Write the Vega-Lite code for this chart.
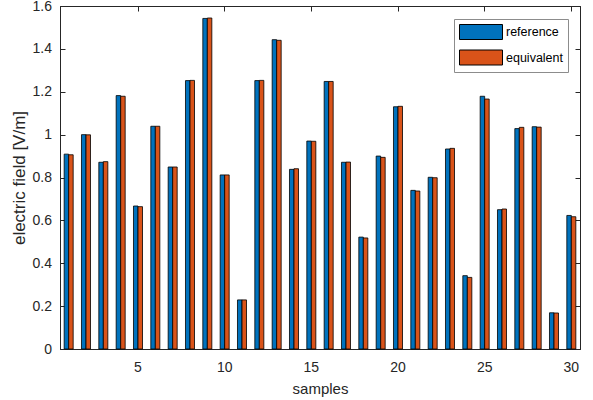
{
  "$schema": "https://vega.github.io/schema/vega-lite/v6.json",
  "autosize": "none",
  "width": 520,
  "height": 343,
  "padding": {"left": 60, "top": 6, "right": 13, "bottom": 51},
  "background": "white",
  "config": {
    "font": "Liberation Sans",
    "view": {"stroke": "#262626", "strokeWidth": 1},
    "axis": {
      "grid": false,
      "domainColor": "#262626",
      "tickColor": "#262626",
      "labelColor": "#262626",
      "titleColor": "#262626",
      "labelFont": "Liberation Sans",
      "titleFont": "Liberation Sans",
      "labelFontSize": 14,
      "titleFontSize": 15,
      "titleFontWeight": "normal",
      "tickSize": -5
    }
  },
  "data": {
    "values": [
      {"sample": 1, "series": "reference", "value": 0.909}, {"sample": 1, "series": "equivalent", "value": 0.906},
      {"sample": 2, "series": "reference", "value": 1.0}, {"sample": 2, "series": "equivalent", "value": 0.999},
      {"sample": 3, "series": "reference", "value": 0.871}, {"sample": 3, "series": "equivalent", "value": 0.874},
      {"sample": 4, "series": "reference", "value": 1.182}, {"sample": 4, "series": "equivalent", "value": 1.179},
      {"sample": 5, "series": "reference", "value": 0.667}, {"sample": 5, "series": "equivalent", "value": 0.664},
      {"sample": 6, "series": "reference", "value": 1.039}, {"sample": 6, "series": "equivalent", "value": 1.039},
      {"sample": 7, "series": "reference", "value": 0.849}, {"sample": 7, "series": "equivalent", "value": 0.849},
      {"sample": 8, "series": "reference", "value": 1.252}, {"sample": 8, "series": "equivalent", "value": 1.253},
      {"sample": 9, "series": "reference", "value": 1.542}, {"sample": 9, "series": "equivalent", "value": 1.544},
      {"sample": 10, "series": "reference", "value": 0.812}, {"sample": 10, "series": "equivalent", "value": 0.812},
      {"sample": 11, "series": "reference", "value": 0.229}, {"sample": 11, "series": "equivalent", "value": 0.229},
      {"sample": 12, "series": "reference", "value": 1.252}, {"sample": 12, "series": "equivalent", "value": 1.253},
      {"sample": 13, "series": "reference", "value": 1.443}, {"sample": 13, "series": "equivalent", "value": 1.440},
      {"sample": 14, "series": "reference", "value": 0.838}, {"sample": 14, "series": "equivalent", "value": 0.841},
      {"sample": 15, "series": "reference", "value": 0.970}, {"sample": 15, "series": "equivalent", "value": 0.969},
      {"sample": 16, "series": "reference", "value": 1.248}, {"sample": 16, "series": "equivalent", "value": 1.248},
      {"sample": 17, "series": "reference", "value": 0.871}, {"sample": 17, "series": "equivalent", "value": 0.872},
      {"sample": 18, "series": "reference", "value": 0.522}, {"sample": 18, "series": "equivalent", "value": 0.518},
      {"sample": 19, "series": "reference", "value": 0.900}, {"sample": 19, "series": "equivalent", "value": 0.894},
      {"sample": 20, "series": "reference", "value": 1.130}, {"sample": 20, "series": "equivalent", "value": 1.132},
      {"sample": 21, "series": "reference", "value": 0.740}, {"sample": 21, "series": "equivalent", "value": 0.737},
      {"sample": 22, "series": "reference", "value": 0.801}, {"sample": 22, "series": "equivalent", "value": 0.799},
      {"sample": 23, "series": "reference", "value": 0.933}, {"sample": 23, "series": "equivalent", "value": 0.936},
      {"sample": 24, "series": "reference", "value": 0.342}, {"sample": 24, "series": "equivalent", "value": 0.334},
      {"sample": 25, "series": "reference", "value": 1.179}, {"sample": 25, "series": "equivalent", "value": 1.166},
      {"sample": 26, "series": "reference", "value": 0.650}, {"sample": 26, "series": "equivalent", "value": 0.653},
      {"sample": 27, "series": "reference", "value": 1.028}, {"sample": 27, "series": "equivalent", "value": 1.034},
      {"sample": 28, "series": "reference", "value": 1.037}, {"sample": 28, "series": "equivalent", "value": 1.035},
      {"sample": 29, "series": "reference", "value": 0.169}, {"sample": 29, "series": "equivalent", "value": 0.168},
      {"sample": 30, "series": "reference", "value": 0.623}, {"sample": 30, "series": "equivalent", "value": 0.617}
    ]
  },
  "layer": [
    {
      "mark": {"type": "bar", "stroke": "#000000", "strokeWidth": 0.8},
      "encoding": {
        "x": {
          "field": "sample", "type": "ordinal",
          "scale": {"paddingInner": 0.48, "paddingOuter": 0.24},
          "axis": {"values": [5, 10, 15, 20, 25, 30], "labelAngle": 0, "title": "samples", "labelPadding": 16, "titlePadding": 7, "orient": "bottom"}
        },
        "xOffset": {"field": "series", "type": "nominal", "sort": ["reference", "equivalent"]},
        "y": {
          "field": "value", "type": "quantitative",
          "scale": {"domain": [0, 1.6], "nice": false, "zero": true},
          "axis": {"values": [0, 0.2, 0.4, 0.6, 0.8, 1, 1.2, 1.4, 1.6], "format": "~g", "title": "electric field [V/m]", "titleFontSize": 17, "labelPadding": 13.5, "titlePadding": 4, "orient": "left"}
        },
        "color": {
          "field": "series", "type": "nominal",
          "scale": {"domain": ["reference", "equivalent"], "range": ["#0072BD", "#D95319"]},
          "legend": {
            "title": null,
            "orient": "none",
            "legendX": 394,
            "legendY": 13,
            "symbolType": "M-1,-1L4.733,-1L4.733,1L-1,1Z",
            "symbolSize": 225,
            "symbolStrokeColor": "#000000",
            "symbolStrokeWidth": 1,
            "symbolOpacity": 1,
            "labelOffset": 31,
            "labelFontSize": 12.5,
            "labelFont": "Liberation Sans",
            "labelColor": "#000000",
            "rowPadding": 5.5,
            "padding": 5,
            "strokeColor": "#8c8c8c",
            "fillColor": "white"
          }
        }
      }
    },
    {
      "mark": {"type": "bar", "opacity": 0},
      "encoding": {
        "x": {
          "field": "sample", "type": "ordinal",
          "axis": {"values": [5, 10, 15, 20, 25, 30], "labels": false, "title": null, "orient": "top"}
        },
        "y": {
          "field": "value", "type": "quantitative",
          "axis": {"values": [0, 0.2, 0.4, 0.6, 0.8, 1, 1.2, 1.4, 1.6], "labels": false, "title": null, "orient": "right"}
        }
      }
    }
  ],
  "resolve": {"axis": {"x": "independent", "y": "independent"}}
}
